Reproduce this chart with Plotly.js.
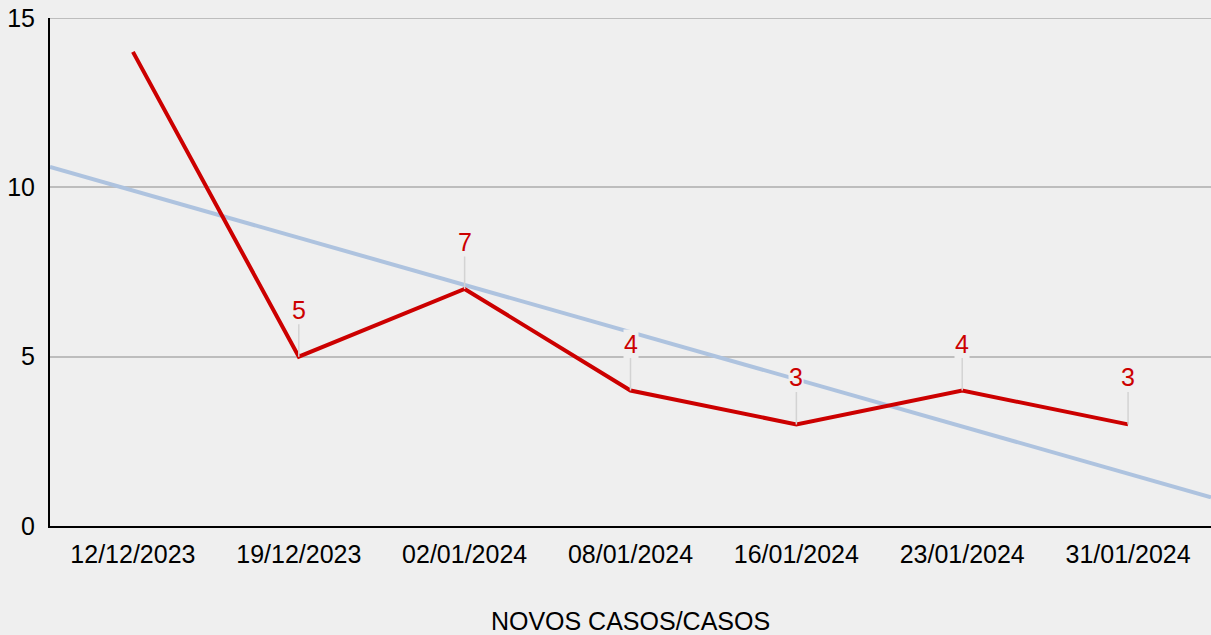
<!DOCTYPE html>
<html>
<head>
<meta charset="utf-8">
<script src="https://cdn.plot.ly/plotly-3.0.1.min.js"></script>
<style>html,body{margin:0;padding:0;background:#efefef;}#chart{width:1211px;height:635px;}</style>
</head>
<body>
<div id="chart"></div>
<script>
const dates = ["12/12/2023","19/12/2023","02/01/2024","08/01/2024","16/01/2024","23/01/2024","31/01/2024"];
const casos = [14, 5, 7, 4, 3, 4, 3];
const labels = ["", "5", "7", "4", "3", "4", "3"];
const trendX = [-0.5, 6.5];
const trendY = [10.6, 0.85];
const yTicks = [0, 5, 10, 15];
const xTitle = "NOVOS CASOS/CASOS";

const idx = dates.map((d, i) => i);
const FONT = "Liberation Sans, Arial, sans-serif";

const traces = [
  {x: trendX, y: trendY, mode: "lines", line: {color: "#aec3df", width: 4}, hoverinfo: "skip", showlegend: false},
  {x: idx, y: casos, mode: "lines", line: {color: "#cc0000", width: 4}, hoverinfo: "skip", showlegend: false}
];

const annotations = [];
idx.forEach(i => {
  if (!labels[i]) return;
  annotations.push({
    x: i, y: casos[i], xref: "x", yref: "y",
    text: labels[i], showarrow: true, arrowhead: 0, arrowwidth: 1.5, arrowcolor: "#d3d3d3",
    ax: 0, ay: -47, standoff: 0,
    font: {family: FONT, size: 25, color: "#cc0000"},
    bgcolor: "#efefef", borderpad: 0
  });
});

const topTick = Math.max(...yTicks);
const shapes = [{
  type: "line", xref: "paper", yref: "y", x0: 0, x1: 1, y0: topTick, y1: topTick,
  line: {color: "#bdbdbd", width: 2}, layer: "below"
}];

const layout = {
  width: 1211, height: 635,
  margin: {l: 50, r: 0, t: 18, b: 109},
  paper_bgcolor: "#efefef", plot_bgcolor: "#efefef",
  font: {family: FONT, size: 25, color: "#000"},
  hovermode: false,
  xaxis: {
    type: "linear", range: [-0.5, 6.5], tickvals: idx, ticktext: dates,
    showgrid: false, zeroline: false, showline: true, linecolor: "#000", linewidth: 2,
    ticks: "outside", ticklen: 5, tickcolor: "rgba(0,0,0,0)",
    tickfont: {family: FONT, size: 25, color: "#000"},
    title: {text: xTitle, font: {family: FONT, size: 25, color: "#000"}, standoff: 48},
    automargin: false, fixedrange: true
  },
  yaxis: {
    range: [0, 15], tickvals: yTicks, ticktext: yTicks.map(String),
    showgrid: true, gridcolor: "#bdbdbd", gridwidth: 2,
    zeroline: false, showline: true, linecolor: "#000", linewidth: 2,
    ticks: "outside", ticklen: 8, tickcolor: "rgba(0,0,0,0)",
    tickfont: {family: FONT, size: 25, color: "#000"},
    automargin: false, fixedrange: true
  },
  shapes: shapes,
  annotations: annotations
};

Plotly.newPlot("chart", traces, layout, {displayModeBar: false, staticPlot: true});
</script>
</body>
</html>
